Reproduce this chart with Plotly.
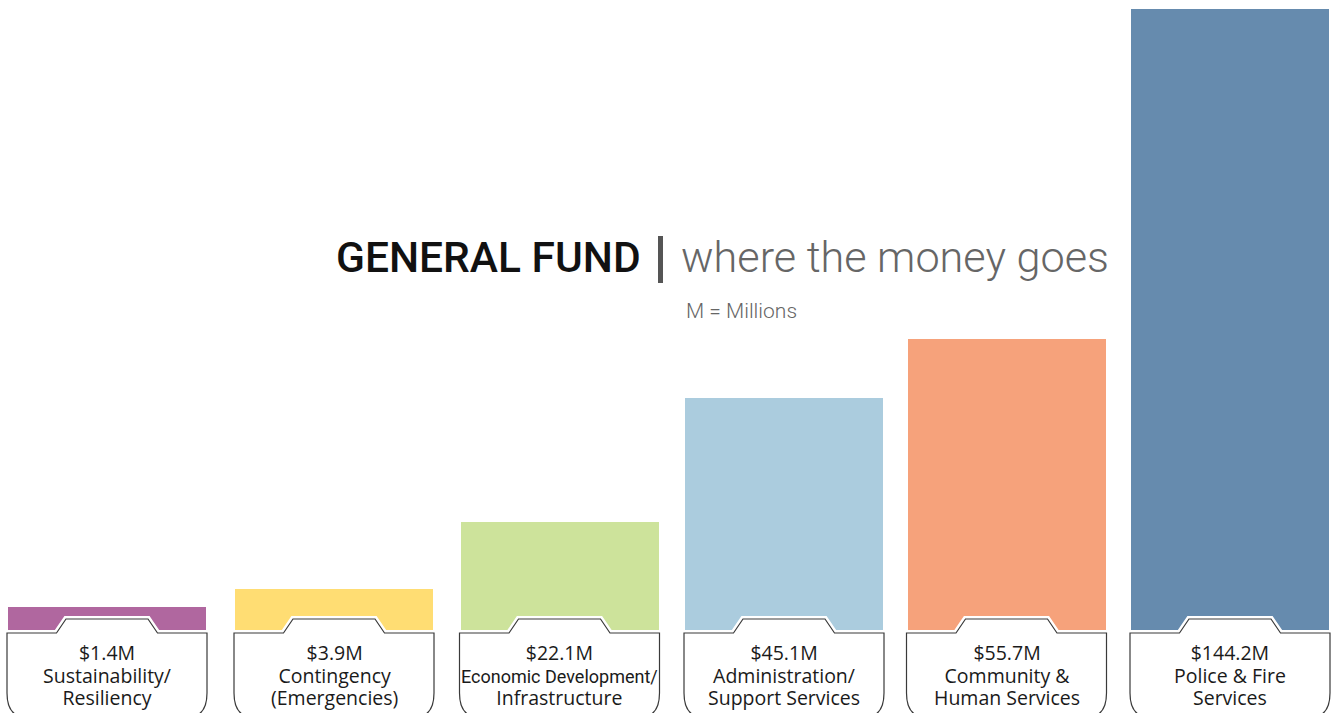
import plotly.graph_objects as go

# ---- data ----
categories = [
    "Sustainability/\nResiliency",
    "Contingency\n(Emergencies)",
    "Economic Development/\nInfrastructure",
    "Administration/\nSupport Services",
    "Community &\nHuman Services",
    "Police & Fire\nServices",
]
amounts_millions = [1.4, 3.9, 22.1, 45.1, 55.7, 144.2]
# bar heights as drawn in the graphic (illustrative, not to scale with amounts)
bar_heights = [24, 42, 109, 233, 292, 622]
colors = ["#B0679F", "#FFDD73", "#CDE39B", "#ABCCDE", "#F6A27B", "#668BAE"]

title_main = "GENERAL FUND"
title_sub = "where the money goes"
note = "M = Millions"

# ---- layout constants (x axis in page pixels) ----
W, H = 1333, 713
slot_centers = [107, 334, 559.5, 784, 1006.5, 1230]
bar_width = 198

fig = go.Figure()
fig.add_trace(go.Bar(
    x=slot_centers, y=bar_heights, marker=dict(color=colors, line=dict(width=0)),
    width=bar_width, hoverinfo="skip",
))

# label tabs
hw, nb, nt, cr = 100, 50.5, 41, 19
top, notch, side_end, bottom = -2, 12, -62, -86
shapes = []
for p in slot_centers:
    L, R = p - hw, p + hw
    path = (f"M {L},{top} L {p-nb},{top} L {p-nt},{notch} L {p+nt},{notch} "
            f"L {p+nb},{top} L {R},{top} L {R},{side_end} Q {R},{bottom} {R-cr},{bottom} "
            f"L {L+cr},{bottom} Q {L},{bottom} {L},{side_end} Z")
    shapes.append(dict(type="path", xref="x", yref="y", path=path,
                       line=dict(color="white", width=6), fillcolor="white", layer="above"))
    shapes.append(dict(type="path", xref="x", yref="y", path=path,
                       line=dict(color="#3a3a3a", width=1.2), fillcolor="white", layer="above"))

# separator in title
shapes.append(dict(type="line", xref="paper", yref="paper",
                   x0=660.5 / W, x1=660.5 / W, y0=1 - 236 / H, y1=1 - 283 / H,
                   line=dict(color="#555555", width=5)))

annotations = []
for p, amt, cat in zip(slot_centers, amounts_millions, categories):
    parts = []
    for txt in [f"${amt}M"] + cat.split("\n"):
        if len(txt) > 18:
            parts.append(f"<span style='font-family:Roboto;font-size:18px'>{txt}</span>")
        else:
            parts.append(f"<span style='font-size:19.5px'>{txt}</span>")
    annotations.append(dict(
        x=p, y=-43.5, xref="x", yref="y", text="<br>".join(parts), showarrow=False,
        xanchor="center", yanchor="middle",
        font=dict(family="Open Sans", size=17.4, color="#1a1a1a"),
    ))

annotations.append(dict(
    x=643 / W, y=1 - 257 / H, xref="paper", yref="paper", text=title_main,
    showarrow=False, xanchor="right", yanchor="middle",
    font=dict(family="Roboto", size=42.5, color="#111111", weight=500),
))
annotations.append(dict(
    x=679 / W, y=1 - 257 / H, xref="paper", yref="paper", text=title_sub,
    showarrow=False, xanchor="left", yanchor="middle",
    font=dict(family="Roboto", size=43.2, color="#666666", weight=300),
))
annotations.append(dict(
    x=684 / W, y=1 - 311 / H, xref="paper", yref="paper", text=note,
    showarrow=False, xanchor="left", yanchor="middle",
    font=dict(family="Roboto", size=21, color="#666666", weight=300),
))

fig.update_layout(
    width=W, height=H, margin=dict(l=0, r=0, t=0, b=0),
    paper_bgcolor="white", plot_bgcolor="white", showlegend=False,
    xaxis=dict(range=[0, W], visible=False, fixedrange=True),
    yaxis=dict(range=[-82, 631], visible=False, fixedrange=True),
    shapes=shapes, annotations=annotations, bargap=0,
)
fig.write_html("out.html", config={"displayModeBar": False},
               post_script="document.body.style.margin='0';")
